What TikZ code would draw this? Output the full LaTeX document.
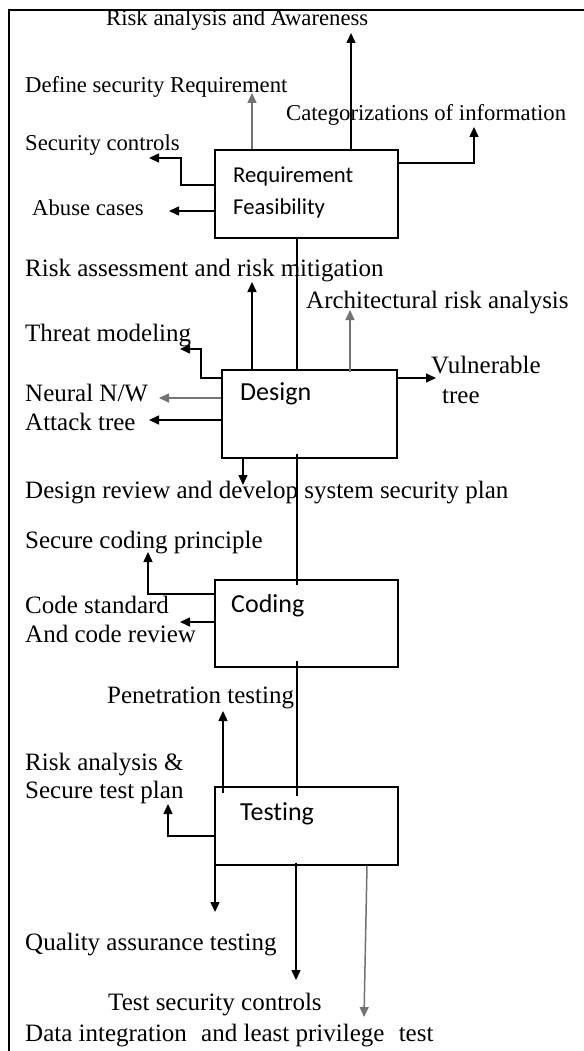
\documentclass[tikz,border=0pt]{standalone}
\usepackage{fontspec}
\setmainfont{Liberation Serif}
\newfontfamily\calib[Ligatures=NoCommon]{Carlito}
\usetikzlibrary{arrows.meta}
\begin{document}
\begin{tikzpicture}[x=1pt,y=-1pt,
  lab/.style={anchor=base west, inner sep=0pt, yshift=-8pt, font=\fontsize{25}{30}\selectfont},
  smalllab/.style={lab, font=\fontsize{22.7}{27}\selectfont},
  boxtxt/.style={anchor=base west, inner sep=0pt, yshift=-7.5pt, font=\calib\fontsize{22.7}{27}\selectfont},
  bigboxtxt/.style={boxtxt, font=\calib\fontsize{26}{30}\selectfont},
  box/.style={draw, line width=1.4pt, inner sep=0pt},
  ln/.style={line width=1.5pt},
  arr/.style={line width=1.5pt, -{Triangle[length=10pt,width=9pt]}},
  gry/.style={draw=black!55, fill=black!55}]
\useasboundingbox (0,0) rectangle (583,1051);
\fill[white] (0,0) rectangle (583,1051);
% frame
\draw[line width=2pt] (9,1060) -- (9,10) -- (595,10);

% boxes
\node[box, minimum width=183pt, minimum height=88pt] (req) at (306.5,194) {};
\node[box, minimum width=175pt, minimum height=88pt] (des) at (309.5,414) {};
\node[box, minimum width=183pt, minimum height=87pt] (cod) at (306.5,623.5) {};
\node[box, minimum width=183pt, minimum height=78pt] (tst) at (306.5,826) {};

\node[boxtxt] (req1) at (233,175) {Requirement};
\node[boxtxt] (req2) at (233,207) {Feasibility};
\node[bigboxtxt] (des1) at (240,393) {Design};
\node[bigboxtxt] (cod1) at (231,605) {Coding};
\node[bigboxtxt] (tst1) at (240,813) {Testing};

% labels
\node[smalllab] (l1) at (106,18) {Risk analysis and Awareness};
\node[smalllab] (l2) at (25,85) {Define security Requirement};
\node[smalllab] (l3) at (286,113) {Categorizations of information};
\node[smalllab] (l4) at (25,143) {Security controls};
\node[smalllab] (l5) at (32,207) {Abuse cases};
\node[lab] (l6) at (25,268) {Risk assessment and risk mitigation};
\node[lab] (l7) at (306,300) {Architectural risk analysis};
\node[lab] (l8) at (25,333) {Threat modeling};
\node[lab] (l9a) at (431,365) {Vulnerable};
\node[lab] (l9b) at (442,395) {tree};
\node[lab] (l10) at (25,393) {Neural N/W};
\node[lab] (l11) at (25,422) {Attack tree};
\node[lab] (l12) at (25,490) {Design review and develop system security plan};
\node[lab] (l13) at (25,540) {Secure coding principle};
\node[lab] (l14a) at (25,605) {Code standard};
\node[lab] (l14b) at (25,634) {And code review};
\node[lab] (l15) at (107,695) {Penetration testing};
\node[lab] (l16a) at (25,762) {Risk analysis \&};
\node[lab] (l16b) at (25,790) {Secure test plan};
\node[lab] (l17) at (25,942) {Quality assurance testing};
\node[lab] (l18) at (108,1002) {Test security controls};
\node[lab] (l19) at (25,1033) {Data integration\hspace{8pt} and least privilege\hspace{8pt} test};

% coordinates
\coordinate (vx) at (297,0);
\coordinate (ta1) at (252,93);
\coordinate (ta2) at (351,33);
\coordinate (sa3) at (0,163);
\coordinate (ta3) at (474,127);
\coordinate (ea4) at (181,185);
\coordinate (ta4) at (149,158);
\coordinate (ta5) at (169,211);

\coordinate (tb1) at (252,282);
\coordinate (tb2) at (350,310);
\coordinate (eb3) at (201,378);
\coordinate (tb3) at (180,349);
\coordinate (tb4) at (159,398);
\coordinate (tb5) at (149,420);
\coordinate (tb6) at (436,378);
\coordinate (tb7) at (243,485);

\coordinate (ec1) at (148,594);
\coordinate (tc1) at (148,552);
\coordinate (tc2) at (180,622);

\coordinate (td1) at (223,711);
\coordinate (ed2) at (168,836);
\coordinate (td2) at (168,804);
\coordinate (td3) at (215,912);
\coordinate (td4) at (296,980);
\coordinate (sd5) at (367,0);
\coordinate (td5) at (364,1017);

% requirement connectors
\draw[arr,gry] (req.north -| ta1) -- (ta1);
\draw[arr] (req.north -| ta2) -- (ta2);
\draw[arr] (req.east |- sa3) -| (ta3);
\draw[arr] (req.west |- ea4) -- (ea4) |- (ta4);
\draw[arr] (req.west |- ta5) -- (ta5);
\draw[ln] (req.south -| vx) -- (des.north -| vx);

% design connectors
\draw[arr] (des.north -| tb1) -- (tb1);
\draw[arr,gry,shorten <=-3pt] (des.north -| tb2) -- (tb2);
\draw[arr] (des.west |- eb3) -- (eb3) |- (tb3);
\draw[arr,gry] (des.west |- tb4) -- (tb4);
\draw[arr] (des.west |- tb5) -- (tb5);
\draw[arr] (des.east |- tb6) -- (tb6);
\draw[arr] (des.south -| tb7) -- (tb7);
\draw[ln, shorten <=-5pt, shorten >=-6pt] (des.south -| vx) -- (cod.north -| vx);

% coding connectors
\draw[arr] (cod.west |- ec1) -- (ec1) -- (tc1);
\draw[arr] (cod.west |- tc2) -- (tc2);
\draw[ln, shorten <=-7pt, shorten >=-10pt] (cod.south -| vx) -- (tst.north -| vx);

% testing connectors
\draw[arr, shorten <=-7pt] (tst.north -| td1) -- (td1);
\draw[arr] (tst.west |- ed2) -- (ed2) -- (td2);
\draw[arr] (tst.south -| td3) -- (td3);
\draw[arr, shorten <=-3pt] (tst.south -| td4) -- (td4);
\draw[arr,gry] (tst.south -| sd5) -- (td5);
\end{tikzpicture}
\end{document}
